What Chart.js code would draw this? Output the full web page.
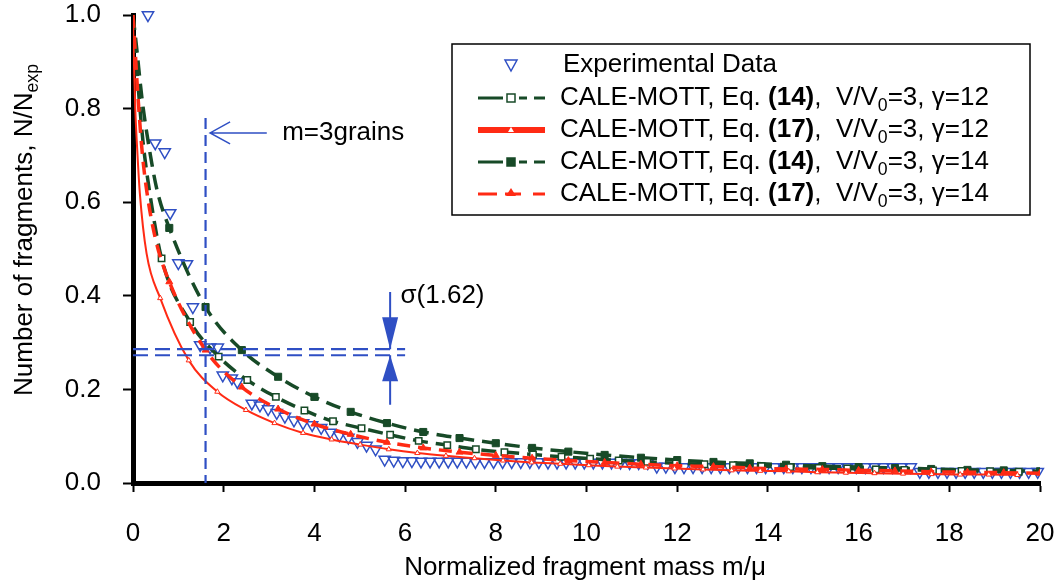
<!DOCTYPE html>
<html lang="en">
<head>
<meta charset="UTF-8">
<title>Fragment mass distribution</title>
<script src="https://cdn.jsdelivr.net/npm/chart.js"></script>
<style>
    body { margin: 0; background: #fff; }
    #wrap { width: 1057px; height: 585px; position: relative; }
</style>
</head>
<body>
<div id="wrap"><canvas id="fragChart"></canvas></div>
<script>
// ---- data ----
const xTicks = [0, 2, 4, 6, 8, 10, 12, 14, 16, 18, 20];
const yTicks = [0.0, 0.2, 0.4, 0.6, 0.8, 1.0];

// experimental data (open down triangles)
const expX = [0.33, 0.49, 0.70, 0.82, 1.00, 1.19, 1.32, 1.48, 1.70, 1.87,
    1.98, 2.18, 2.30, 2.62, 2.80, 2.98, 3.17, 3.35, 3.55, 3.75,
    3.95, 4.15, 4.35, 4.55, 4.75, 4.95, 5.15, 5.35,
    5.55, 5.75, 5.95, 6.15, 6.35, 6.55, 6.75, 6.95, 7.15, 7.35,
    7.55, 7.75, 7.95, 8.15, 8.35, 8.55, 8.75, 8.95, 9.15, 9.35,
    9.55, 9.75, 9.95, 10.15, 10.35, 10.55, 10.75, 10.95, 11.15, 11.35,
    11.55, 11.75, 11.95, 12.15, 12.35, 12.55, 12.75, 12.95, 13.15, 13.35,
    13.55, 13.75, 13.95, 14.15, 14.35, 14.55, 14.75, 14.95, 15.15, 15.35,
    15.55, 15.75, 15.95, 16.15, 16.35, 16.55, 16.75, 16.95, 17.15,
    17.35, 17.55, 17.75, 17.95, 18.15, 18.35, 18.55, 18.75, 18.95, 19.15,
    19.35, 19.55, 19.75, 19.95];
const expY = [1.000, 0.726, 0.707, 0.577, 0.470, 0.468, 0.376, 0.295, 0.290, 0.290,
    0.230, 0.224, 0.216, 0.170, 0.166, 0.158, 0.150, 0.142, 0.134, 0.128,
    0.124, 0.118, 0.108, 0.102, 0.097, 0.088, 0.080, 0.072,
    0.050, 0.048, 0.047, 0.047, 0.046, 0.046, 0.046, 0.046, 0.046, 0.046,
    0.045, 0.045, 0.045, 0.045, 0.045, 0.045, 0.045, 0.045, 0.044, 0.044,
    0.044, 0.044, 0.044, 0.044, 0.044, 0.044, 0.044, 0.043, 0.043, 0.043,
    0.035, 0.035, 0.034, 0.034, 0.034, 0.034, 0.034, 0.034, 0.034, 0.034,
    0.034, 0.034, 0.034, 0.034, 0.034, 0.034, 0.034, 0.034, 0.034, 0.034,
    0.034, 0.034, 0.034, 0.034, 0.034, 0.034, 0.034, 0.034, 0.034,
    0.024, 0.024, 0.024, 0.024, 0.024, 0.024, 0.024, 0.024, 0.024, 0.024,
    0.024, 0.024, 0.024, 0.024];

// CALE-MOTT Eq.(14), gamma=12 (open squares); first 5 points have no marker
const e14g12X = [0, 0.06, 0.12, 0.22, 0.36, 0.63, 1.26, 1.89, 2.52, 3.15, 3.78, 4.41, 5.04,
    5.67, 6.30, 6.93, 7.56, 8.19, 8.82, 9.45, 10.08, 10.71, 11.34, 11.97, 12.60,
    13.23, 13.86, 14.49, 15.12, 15.75, 16.38, 17.01, 17.64, 18.27, 18.90, 19.53];
const e14g12Y = [1.0, 0.92, 0.84, 0.73, 0.626, 0.48, 0.344, 0.27, 0.22, 0.184, 0.155, 0.132, 0.117,
    0.103, 0.090, 0.081, 0.072, 0.066, 0.061, 0.056, 0.052, 0.048, 0.045, 0.042, 0.040,
    0.038, 0.036, 0.034, 0.032, 0.031, 0.029, 0.028, 0.027, 0.026, 0.025, 0.024];

// CALE-MOTT Eq.(17), gamma=12 (solid red, small open triangles)
const e17g12X = [0, 0.02, 0.05, 0.10, 0.15, 0.30, 0.60, 1.23, 1.86, 2.49, 3.12, 3.75, 4.38,
    5.01, 5.64, 6.27, 6.90, 7.53, 8.16, 8.79, 9.42, 10.05, 10.68, 11.31, 11.94,
    12.57, 13.20, 13.83, 14.46, 15.09, 15.72, 16.35, 16.98, 17.61, 18.24, 18.87, 19.50];
const e17g12Y = [1.0, 0.90, 0.80, 0.70, 0.62, 0.49, 0.395, 0.262, 0.195, 0.156, 0.128, 0.107, 0.093,
    0.082, 0.072, 0.064, 0.058, 0.053, 0.048, 0.044, 0.041, 0.038, 0.035, 0.033, 0.031,
    0.029, 0.027, 0.026, 0.025, 0.023, 0.022, 0.021, 0.020, 0.019, 0.018, 0.018, 0.017];

// CALE-MOTT Eq.(14), gamma=14 (filled squares)
const e14g14X = [0, 0.08, 0.20, 0.35, 0.53, 0.8, 1.6, 2.4, 3.2, 4.0, 4.8, 5.6, 6.4, 7.2, 8.0,
    8.8, 9.6, 10.4, 11.2, 12.0, 12.8, 13.6, 14.4, 15.2, 16.0, 16.8, 17.6, 18.4, 19.2, 20.0];
const e14g14Y = [1.0, 0.93, 0.82, 0.72, 0.626, 0.545, 0.376, 0.284, 0.227, 0.184, 0.152, 0.128, 0.109, 0.096, 0.085,
    0.075, 0.067, 0.060, 0.054, 0.049, 0.045, 0.042, 0.039, 0.036, 0.034, 0.032, 0.030, 0.028, 0.027, 0.025];

// CALE-MOTT Eq.(17), gamma=14 (dashed red, filled triangles)
const e17g14X = [0, 0.05, 0.10, 0.20, 0.30, 0.50, 0.8, 1.6, 2.4, 3.2, 4.0, 4.8, 5.6, 6.4, 7.2, 8.0,
    8.8, 9.6, 10.4, 11.2, 12.0, 12.8, 13.6, 14.4, 15.2, 16.0, 16.8, 17.6, 18.4, 19.2, 20.0];
const e17g14Y = [1.0, 0.92, 0.84, 0.71, 0.626, 0.52, 0.43, 0.284, 0.205, 0.158, 0.126, 0.104, 0.087, 0.075, 0.066, 0.059,
    0.053, 0.048, 0.044, 0.040, 0.037, 0.035, 0.032, 0.030, 0.029, 0.027, 0.026, 0.024, 0.023, 0.022, 0.021];

const BLUE = '#2f4fc4';
const GREEN = '#174a27';
const RED = '#ff2a14';
const FONT = "'Liberation Sans', Arial, Helvetica, sans-serif";
const FS = 26;

function pts(xs, ys) {
    return xs.map((x, i) => ({ x: x, y: ys[i] }));
}
// hide markers on the leading (near-origin) points
function markerRadius(lead, r) {
    return c => (c.dataIndex < lead ? 0 : r);
}

// draws a string made of parts (bold / subscript)
function richText(ctx, x, y, parts, size) {
    parts.forEach(p => {
        const s = p.sub ? size * 0.68 : size;
        ctx.font = (p.b ? 'bold ' : '') + s + 'px ' + FONT;
        ctx.fillText(p.t, x, y + (p.sub ? size * 0.32 : 0));
        x += ctx.measureText(p.t).width;
    });
    return x;
}
function richWidth(ctx, parts, size) {
    let w = 0;
    parts.forEach(p => {
        const s = p.sub ? size * 0.68 : size;
        ctx.font = (p.b ? 'bold ' : '') + s + 'px ' + FONT;
        w += ctx.measureText(p.t).width;
    });
    return w;
}
function caleParts(eq, g) {
    return [{ t: 'CALE-MOTT, Eq. ' }, { t: '(' + eq + ')', b: true }, { t: ',  V/V' },
        { t: '0', sub: true }, { t: '=3, \u03b3=' + g }];
}

const extras = {
    id: 'extras',
    afterDraw(chart) {
        const ctx = chart.ctx;
        const xs = chart.scales.x, ys = chart.scales.y;
        const px = v => xs.getPixelForValue(v);
        const py = v => ys.getPixelForValue(v);
        ctx.save();

        // m = 3 grains marker line
        ctx.strokeStyle = BLUE;
        ctx.lineWidth = 2.2;
        ctx.setLineDash([11, 6]);
        ctx.beginPath();
        ctx.moveTo(px(1.6), py(0.78));
        ctx.lineTo(px(1.6), py(0));
        ctx.stroke();

        // double dashed sigma band
        ctx.setLineDash([15, 7]);
        [0.286, 0.273].forEach(v => {
            ctx.beginPath();
            ctx.moveTo(px(0), py(v));
            ctx.lineTo(px(6.0), py(v));
            ctx.stroke();
        });
        ctx.setLineDash([]);

        // arrow pointing at the marker line
        const ay = py(0.748);
        ctx.lineWidth = 1.5;
        ctx.beginPath();
        ctx.moveTo(px(1.7), ay);
        ctx.lineTo(px(2.95), ay);
        ctx.moveTo(px(1.7) + 20, ay - 11);
        ctx.lineTo(px(1.7), ay);
        ctx.lineTo(px(1.7) + 20, ay + 11);
        ctx.stroke();

        // sigma arrows
        const sx = px(5.67);
        ctx.fillStyle = BLUE;
        ctx.lineWidth = 2;
        ctx.beginPath();
        ctx.moveTo(sx, py(0.408));
        ctx.lineTo(sx, py(0.286));
        ctx.moveTo(sx, py(0.273));
        ctx.lineTo(sx, py(0.167));
        ctx.stroke();
        ctx.beginPath();
        ctx.moveTo(sx, py(0.286));
        ctx.lineTo(sx - 8, py(0.286) - 32);
        ctx.lineTo(sx + 8, py(0.286) - 32);
        ctx.closePath();
        ctx.fill();
        ctx.beginPath();
        ctx.moveTo(sx, py(0.273));
        ctx.lineTo(sx - 8, py(0.273) + 26);
        ctx.lineTo(sx + 8, py(0.273) + 26);
        ctx.closePath();
        ctx.fill();

        ctx.fillStyle = '#000';
        ctx.textBaseline = 'middle';
        ctx.textAlign = 'left';
        ctx.font = FS + 'px ' + FONT;
        ctx.fillText('m=3grains', px(3.29), ay);
        ctx.fillText('\u03c3(1.62)', px(5.9), py(0.40));

        // axis titles
        ctx.textAlign = 'center';
        ctx.fillText('Normalized fragment mass m/\u03bc', 585, 568);
        const yParts = [{ t: 'Number of fragments, N/N' }, { t: 'exp', sub: true }];
        ctx.save();
        ctx.translate(25, 230);
        ctx.rotate(-Math.PI / 2);
        ctx.textAlign = 'left';
        richText(ctx, -richWidth(ctx, yParts, FS) / 2, 0, yParts, FS);
        ctx.restore();

        // legend
        ctx.fillStyle = '#fff';
        ctx.fillRect(452, 44, 578, 171);
        ctx.strokeStyle = '#000';
        ctx.lineWidth = 1.5;
        ctx.strokeRect(452, 44, 578, 171);

        const rows = [65, 98, 130, 162, 194];
        const sx0 = 478, sx1 = 545, sm = 511;
        // experimental
        ctx.strokeStyle = BLUE;
        ctx.lineWidth = 1.5;
        ctx.beginPath();
        ctx.moveTo(sm - 6, rows[0] - 5);
        ctx.lineTo(sm + 6, rows[0] - 5);
        ctx.lineTo(sm, rows[0] + 6);
        ctx.closePath();
        ctx.stroke();
        // green dashed, open / filled square
        [[rows[1], false], [rows[3], true]].forEach(r => {
            const yy = r[0];
            ctx.strokeStyle = GREEN;
            ctx.lineWidth = 3;
            ctx.beginPath();
            ctx.moveTo(sx0, yy); ctx.lineTo(sm - 8, yy);
            ctx.moveTo(sm + 8, yy); ctx.lineTo(sm + 16, yy);
            ctx.moveTo(sm + 23, yy); ctx.lineTo(sx1, yy);
            ctx.stroke();
            ctx.lineWidth = 1.5;
            ctx.fillStyle = r[1] ? GREEN : '#fff';
            ctx.fillRect(sm - 4, yy - 4, 8, 8);
            ctx.strokeRect(sm - 4, yy - 4, 8, 8);
        });
        // red solid
        ctx.strokeStyle = RED;
        ctx.lineWidth = 6;
        ctx.beginPath();
        ctx.moveTo(sx0, rows[2]); ctx.lineTo(sx1, rows[2]);
        ctx.stroke();
        ctx.fillStyle = '#fff';
        ctx.beginPath();
        ctx.moveTo(sm, rows[2] - 3); ctx.lineTo(sm - 3, rows[2] + 2); ctx.lineTo(sm + 3, rows[2] + 2);
        ctx.closePath(); ctx.fill();
        // red dashed
        ctx.lineWidth = 3;
        ctx.beginPath();
        ctx.moveTo(sx0, rows[4]); ctx.lineTo(sm - 14, rows[4]);
        ctx.moveTo(sm - 6, rows[4]); ctx.lineTo(sm + 10, rows[4]);
        ctx.moveTo(sm + 22, rows[4]); ctx.lineTo(sx1, rows[4]);
        ctx.stroke();
        ctx.fillStyle = RED;
        ctx.beginPath();
        ctx.moveTo(sm, rows[4] - 6); ctx.lineTo(sm - 5, rows[4] + 2); ctx.lineTo(sm + 5, rows[4] + 2);
        ctx.closePath(); ctx.fill();

        ctx.fillStyle = '#000';
        ctx.textAlign = 'left';
        ctx.font = FS + 'px ' + FONT;
        ctx.fillText('Experimental Data', 563, rows[0]);
        richText(ctx, 560, rows[1], caleParts(14, 12), FS);
        richText(ctx, 560, rows[2], caleParts(17, 12), FS);
        richText(ctx, 560, rows[3], caleParts(14, 14), FS);
        richText(ctx, 560, rows[4], caleParts(17, 14), FS);

        ctx.restore();
    }
};

Chart.defaults.font.family = FONT;

const ctx = document.getElementById('fragChart').getContext('2d');
new Chart(ctx, {
    type: 'scatter',
    data: {
        datasets: [
            {
                label: 'CALE-MOTT, Eq. (17), V/V0=3, γ=12',
                data: pts(e17g12X, e17g12Y),
                showLine: true,
                borderColor: RED,
                borderWidth: 2,
                cubicInterpolationMode: 'monotone',
                pointStyle: 'triangle',
                pointRadius: markerRadius(6, 3),
                pointBorderWidth: 1,
                pointBorderColor: RED,
                pointBackgroundColor: '#fff'
            },
            {
                label: 'CALE-MOTT, Eq. (17), V/V0=3, γ=14',
                data: pts(e17g14X, e17g14Y),
                showLine: true,
                borderColor: RED,
                borderWidth: 3.5,
                borderDash: [13, 8],
                cubicInterpolationMode: 'monotone',
                pointStyle: 'triangle',
                pointRadius: markerRadius(6, 4),
                pointBorderWidth: 1,
                pointBorderColor: RED,
                pointBackgroundColor: RED
            },
            {
                label: 'CALE-MOTT, Eq. (14), V/V0=3, γ=12',
                data: pts(e14g12X, e14g12Y),
                showLine: true,
                borderColor: GREEN,
                borderWidth: 3.5,
                borderDash: [15, 8],
                cubicInterpolationMode: 'monotone',
                pointStyle: 'rect',
                pointRadius: markerRadius(5, 4.5),
                pointBorderWidth: 1.5,
                pointBorderColor: GREEN,
                pointBackgroundColor: '#fff'
            },
            {
                label: 'CALE-MOTT, Eq. (14), V/V0=3, γ=14',
                data: pts(e14g14X, e14g14Y),
                showLine: true,
                borderColor: GREEN,
                borderWidth: 3.5,
                borderDash: [15, 8],
                cubicInterpolationMode: 'monotone',
                pointStyle: 'rect',
                pointRadius: markerRadius(5, 5),
                pointBorderWidth: 1,
                pointBorderColor: GREEN,
                pointBackgroundColor: GREEN
            },
            {
                label: 'Experimental Data',
                data: pts(expX, expY),
                showLine: false,
                clip: false,
                pointStyle: 'triangle',
                rotation: 180,
                pointRadius: 6.5,
                pointBorderWidth: 1.5,
                pointBorderColor: BLUE,
                pointBackgroundColor: 'rgba(255,255,255,0)'
            }
        ]
    },
    options: {
        responsive: true,
        maintainAspectRatio: false,
        animation: false,
        layout: { padding: { top: 15, right: 17, left: 0, bottom: 0 } },
        plugins: {
            legend: { display: false },
            tooltip: { enabled: false }
        },
        scales: {
            x: {
                type: 'linear',
                min: 0,
                max: 20,
                afterBuildTicks: s => { s.ticks = xTicks.map(v => ({ value: v })); },
                afterFit: s => { s.height = 102; s.paddingLeft = 0; s.paddingRight = 0; },
                border: { display: true, color: '#000', width: 5 },
                grid: { drawOnChartArea: false, drawTicks: true, tickLength: 9, tickWidth: 2, tickColor: '#000' },
                ticks: { color: '#000', font: { size: FS }, padding: 26, maxRotation: 0 }
            },
            y: {
                min: 0,
                max: 1,
                afterBuildTicks: s => { s.ticks = yTicks.map(v => ({ value: v })); },
                afterFit: s => { s.width = 133; s.paddingTop = 0; s.paddingBottom = 0; },
                border: { display: true, color: '#000', width: 5 },
                grid: { drawOnChartArea: false, drawTicks: true, tickLength: 10, tickWidth: 2, tickColor: '#000' },
                ticks: { color: '#000', font: { size: FS }, padding: 22, callback: v => v.toFixed(1) }
            }
        }
    },
    plugins: [extras]
});
</script>
</body>
</html>
